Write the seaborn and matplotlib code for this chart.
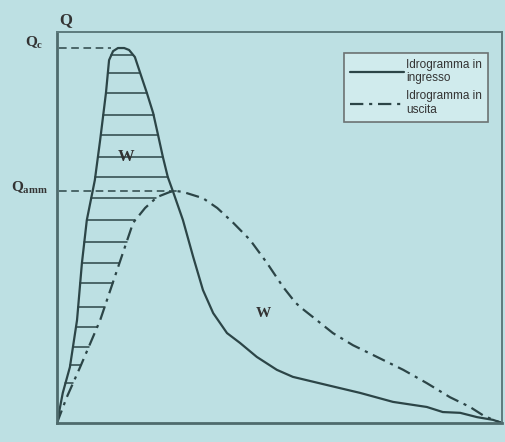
import numpy as np
import pandas as pd
import matplotlib
matplotlib.use("Agg")
import matplotlib.pyplot as plt
import seaborn as sns
from matplotlib.lines import Line2D
import matplotlib.transforms as mtransforms

# Inflow hydrograph (solid), time in % of the window, Q in % of the axis
t_in = [0, 1.3, 2.9, 4.5, 5.6, 6.7, 8.5, 9.7, 11.0, 11.7, 12.6, 13.7, 15.1, 16.2, 17.5,
        18.7, 20.2, 21.6, 22.7, 23.8, 24.9, 26.1, 28.3, 30.6, 32.8, 35.1, 38.2, 41.1,
        44.9, 49.4, 53.0, 60.7, 68.1, 75.5, 83.1, 86.7, 90.6, 94.4, 98.0, 100]
q_in = [0, 7.7, 14.3, 26.3, 40.9, 51.9, 62.1, 72.4, 84.4, 92.8, 95.1, 95.9, 95.9, 95.4, 93.6,
        89.5, 84.4, 79.3, 73.7, 68.0, 62.9, 59.1, 51.9, 42.5, 34.0, 28.1, 23.0, 20.5,
        16.9, 13.6, 11.8, 9.7, 7.7, 5.4, 4.1, 2.8, 2.6, 1.5, 0.8, 0]

# Outflow hydrograph (dash-dot)
t_out = [0, 2.2, 5.2, 9.7, 13.5, 17.1, 19.8, 22.5, 25.4, 27.0, 28.3, 32.8, 36.0, 39.6,
         43.4, 47.2, 50.8, 53.5, 54.6, 57.5, 62.0, 66.5, 71.9, 77.8, 83.1, 88.3, 92.8,
         95.7, 98.0, 100]
q_out = [0, 6.6, 14.3, 26.3, 39.1, 51.2, 55.0, 57.8, 59.1, 59.3, 59.1, 57.5, 55.0, 51.2,
         46.8, 40.9, 34.8, 30.9, 29.7, 27.1, 23.0, 19.9, 16.9, 13.6, 10.2, 6.6, 4.1,
         2.0, 0.8, 0]

# levels of the horizontal hatching between the two curves
hatch_levels = [10.2, 14.8, 19.4, 24.6, 29.7, 35.8, 40.9, 46.3, 51.9, 57.5, 62.9, 68.0,
                73.7, 78.8, 84.4, 89.5, 94.1]

q_c = max(q_in)
q_amm = max(q_out)

df_in = pd.DataFrame({"t": t_in, "Q": q_in})
df_out = pd.DataFrame({"t": t_out, "Q": q_out})

bg = "#bde0e3"
ink = "#2c4547"

sns.set_style("white", {"axes.facecolor": bg, "figure.facecolor": bg})
plt.rcParams["font.family"] = ["Liberation Serif", "DejaVu Serif"]
plt.rcParams["lines.solid_joinstyle"] = "round"

fig = plt.figure(figsize=(5.05, 4.42), dpi=100)
ax = fig.add_axes([57 / 505, 19 / 442, 445 / 505, 391 / 442])

sns.lineplot(data=df_in, x="t", y="Q", ax=ax, color=ink, lw=1.6, sort=False,
             estimator=None)
sns.lineplot(data=df_out, x="t", y="Q", ax=ax, color=ink, lw=1.6, sort=False,
             estimator=None, dashes=False)
ax.lines[1].set_dashes((6, 2.6, 1.4, 2.6))

# hatching: between rising inflow and (falling inflow / rising outflow)
i_pk = int(np.argmax(q_in))
o_pk = int(np.argmax(q_out))
rise_t, rise_q = np.array(t_in[:i_pk + 1]), np.array(q_in[:i_pk + 1])
fall_t, fall_q = np.array(t_in[i_pk:])[::-1], np.array(q_in[i_pk:])[::-1]
orise_t, orise_q = np.array(t_out[:o_pk + 1]), np.array(q_out[:o_pk + 1])
for lv in hatch_levels:
    x0 = np.interp(lv, rise_q, rise_t)
    x1 = np.interp(lv, fall_q, fall_t)
    if lv < q_amm:
        x1 = min(x1, np.interp(lv, orise_q, orise_t))
    ax.plot([x0, x1], [lv, lv], color=ink, lw=1.1)

# reference dashed lines for the peaks
ax.plot([0.5, t_in[i_pk] - 1.5], [q_c, q_c], color=ink, lw=1.1, dashes=(5, 3))
ax.plot([0.5, t_out[o_pk]], [q_amm, q_amm], color=ink, lw=1.1, dashes=(5, 3))

ax.set_xlim(0, 100)
ax.set_ylim(0, 100)
ax.set_xticks([])
ax.set_yticks([])
ax.set_xlabel("")
ax.set_ylabel("")
for side in ["left", "bottom"]:
    ax.spines[side].set_color("#4f6b6d")
    ax.spines[side].set_linewidth(2.0)
for side in ["top", "right"]:
    ax.spines[side].set_color("#5d7b7d")
    ax.spines[side].set_linewidth(1.4)

trans = mtransforms.blended_transform_factory(ax.transAxes, ax.transData)
ax.text(0.005, 1.03, "Q", transform=ax.transAxes, fontsize=12, fontweight="bold",
        color="#333", ha="left", va="center")
ax.text(-0.03, q_c + 1.2, r"$\mathregular{Q_c}$", transform=trans, fontsize=11,
        fontweight="bold", color="#333", ha="right", va="center")
ax.text(-0.02, q_amm + 0.8, r"$\mathregular{Q_{amm}}$", transform=trans, fontsize=11,
        fontweight="bold", color="#333", ha="right", va="center")
ax.text(15.5, 68, "W", fontsize=12, fontweight="bold", color="#333", ha="center", va="center")
ax.text(46.3, 28, "W", fontsize=11, fontweight="bold", color="#333", ha="center", va="center")

handles = [Line2D([], [], color=ink, lw=1.6),
           Line2D([], [], color=ink, lw=1.6, dashes=(6, 2.6, 1.4, 2.6))]
leg = ax.legend(handles, ["Idrogramma in\ningresso", "Idrogramma in\nuscita"],
                loc="upper right", bbox_to_anchor=(0.969, 0.947),
                prop={"family": "Liberation Sans", "size": 8.5},
                handlelength=4.6, handletextpad=0.2, borderpad=0.5, labelspacing=0.5,
                frameon=True, fancybox=False, borderaxespad=0)
leg.get_frame().set_facecolor("#d6eef0")
leg.get_frame().set_edgecolor("#555")
leg.get_frame().set_linewidth(1.2)
for txt in leg.get_texts():
    txt.set_color("#333")

fig.savefig("out.png", dpi=100, facecolor=bg)
